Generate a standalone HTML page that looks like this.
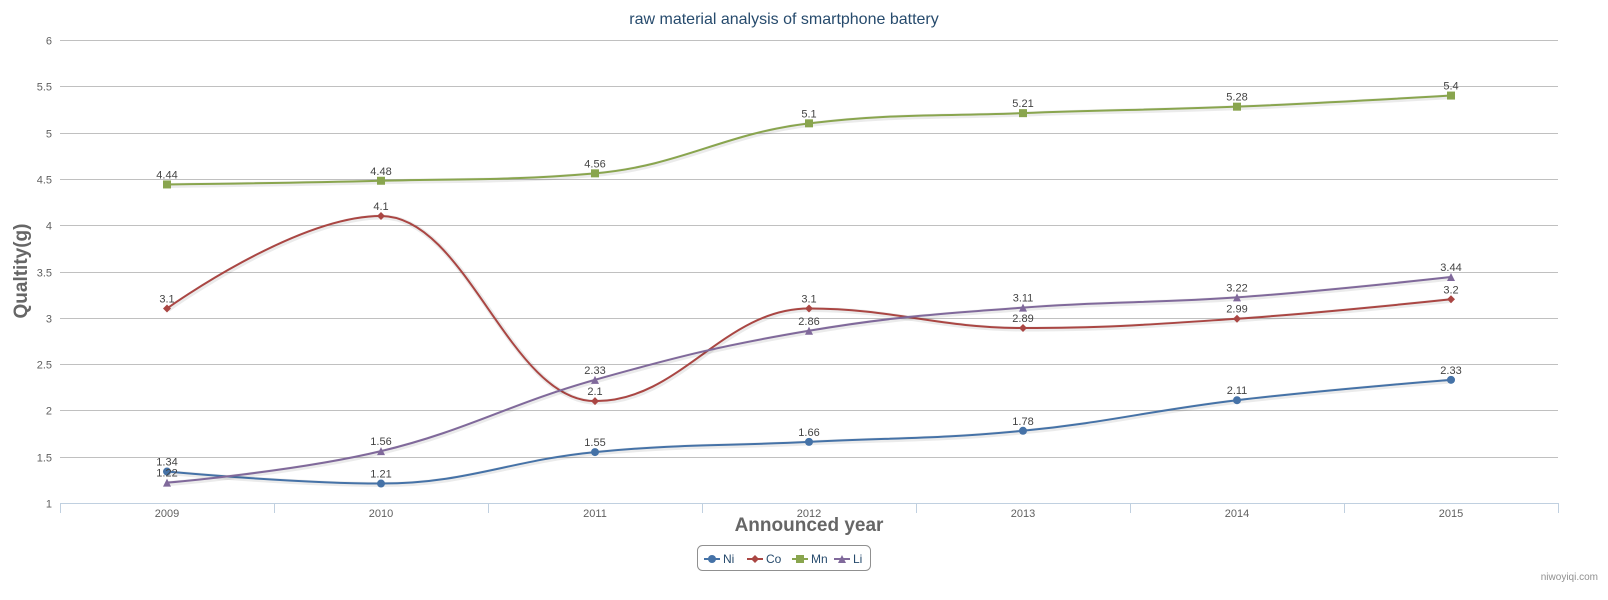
<!DOCTYPE html>
<html><head><meta charset="utf-8">
<style>
html,body{margin:0;padding:0;background:#fff;width:1608px;height:600px;overflow:hidden;}
svg text{font-family:"Liberation Sans","DejaVu Sans",sans-serif;}
</style></head>
<body>
<svg id="chart" width="1608" height="600" xmlns="http://www.w3.org/2000/svg">
<text x="784" y="24" text-anchor="middle" font-size="16" fill="#274b6d">raw material analysis of smartphone battery</text>
<g id="grid"></g>
<g id="axes"></g>
<text transform="translate(27,271) rotate(-90)" text-anchor="middle" font-size="19" font-weight="bold" fill="#666">Qualtity(g)</text>
<text x="809" y="531" text-anchor="middle" font-size="19" font-weight="bold" fill="#666">Announced year</text>
<g id="series"></g>
<g id="legend"></g>
<text x="1598" y="580" text-anchor="end" font-size="10" fill="#909090">niwoyiqi.com</text>
</svg>
<script>
const categories = ["2009","2010","2011","2012","2013","2014","2015"];
const yTicks = [1,1.5,2,2.5,3,3.5,4,4.5,5,5.5,6];
const seriesNames = ["Ni","Co","Mn","Li"];
const niValues = [1.34,1.21,1.55,1.66,1.78,2.11,2.33];
const coValues = [3.1,4.1,2.1,3.1,2.89,2.99,3.2];
const mnValues = [4.44,4.48,4.56,5.1,5.21,5.28,5.4];
const liValues = [1.22,1.56,2.33,2.86,3.11,3.22,3.44];

const NS="http://www.w3.org/2000/svg";
const L=60,R=1558,T=40,B=503,yMin=1,yMax=6;
const cw=(R-L)/categories.length;
const xs=i=>L+cw*(i+0.5);
const ys=v=>B-(v-yMin)/(yMax-yMin)*(B-T);
function mk(tag,attrs,parent){const e=document.createElementNS(NS,tag);for(const k in attrs)e.setAttribute(k,attrs[k]);parent.appendChild(e);return e;}
const grid=document.getElementById('grid'),axes=document.getElementById('axes'),sg=document.getElementById('series'),lg=document.getElementById('legend');

yTicks.forEach(t=>{
  const y=Math.round(ys(t))+0.5;
  const ln=mk('line',{x1:L,x2:R,y1:y,y2:y,stroke:'#C0C0C0','stroke-width':1},grid);
  
  
  const tx=mk('text',{x:52,y:y+4,'text-anchor':'end','font-size':11,fill:'#606060'},axes);
  tx.textContent=String(t);
  
  
});
const ax=mk('line',{x1:L,x2:R,y1:B+0.5,y2:B+0.5,stroke:'#C0D0E0','stroke-width':1},axes);


for(let i=0;i<=categories.length;i++){
  const x=Math.round(L+cw*i)+0.5;
  const tk=mk('line',{x1:x,x2:x,y1:B,y2:B+10,stroke:'#C0D0E0'},axes);
  
  
}
categories.forEach((c,i)=>{
  const tx=mk('text',{x:xs(i),y:B+14,'text-anchor':'middle','font-size':11,fill:'#606060'},axes);
  tx.textContent=c;
  
  
});

function splinePath(pts){
  const sm=1.5,d=2.5;const ctrl=[];
  for(let i=0;i<pts.length;i++){
    const p=pts[i];
    if(i===0||i===pts.length-1){ctrl.push({lx:p.x,ly:p.y,rx:p.x,ry:p.y});continue;}
    const a=pts[i-1],n=pts[i+1];
    let lx=(sm*p.x+a.x)/d,ly=(sm*p.y+a.y)/d,rx=(sm*p.x+n.x)/d,ry=(sm*p.y+n.y)/d;
    const corr=((ry-ly)*(rx-p.x))/(rx-lx)+p.y-ry;ly+=corr;ry+=corr;
    if(ly>a.y&&ly>p.y){ly=Math.max(a.y,p.y);ry=2*p.y-ly;}
    else if(ly<a.y&&ly<p.y){ly=Math.min(a.y,p.y);ry=2*p.y-ly;}
    if(ry>n.y&&ry>p.y){ry=Math.max(n.y,p.y);ly=2*p.y-ry;}
    else if(ry<n.y&&ry<p.y){ry=Math.min(n.y,p.y);ly=2*p.y-ry;}
    ctrl.push({lx,ly,rx,ry});
  }
  let s=`M${pts[0].x},${pts[0].y}`;
  for(let i=1;i<pts.length;i++)s+=` C${ctrl[i-1].rx},${ctrl[i-1].ry} ${ctrl[i].lx},${ctrl[i].ly} ${pts[i].x},${pts[i].y}`;
  return s;
}
function marker(shape,x,y,color,parent){
  let e;
  if(shape==='circle')e=mk('circle',{cx:x,cy:y,r:4,fill:color},parent);
  else if(shape==='diamond')e=mk('path',{d:`M${x},${y-4}L${x+4},${y}L${x},${y+4}L${x-4},${y}Z`,fill:color},parent);
  else if(shape==='square')e=mk('rect',{x:x-4,y:y-4,width:8,height:8,fill:color},parent);
  else e=mk('path',{d:`M${x},${y-4}L${x+4},${y+4}L${x-4},${y+4}Z`,fill:color},parent);
  return e;
}
const allValues=[niValues,coValues,mnValues,liValues];
const colors=['#4572A7','#AA4643','#89A54E','#80699B'];
const shapes=['circle','diamond','square','triangle'];
allValues.forEach((vals,si)=>{
  const g=mk('g',{},sg);
  
  
  const pts=vals.map((v,i)=>({x:xs(i),y:ys(v)}));
  const dpath=splinePath(pts);
  mk('path',{d:dpath,fill:'none',stroke:'rgba(0,0,0,0.08)','stroke-width':5,transform:'translate(1,1)'},g);
  const line=mk('path',{d:dpath,fill:'none',stroke:colors[si],'stroke-width':2},g);
  
  
  pts.forEach((p,i)=>{
    const m=marker(shapes[si],p.x,p.y,colors[si],g);
    
    
    const t=mk('text',{x:p.x,y:p.y-6,'text-anchor':'middle','font-size':11,fill:'#444'},g);
    t.textContent=String(vals[i]);
    
    
  });
});
// legend
const box=mk('rect',{x:697.5,y:545.5,width:173,height:25,rx:5,fill:'#fff',stroke:'#909090'},lg);


const lx=[704,747,792,834];
seriesNames.forEach((n,i)=>{
  const g=mk('g',{},lg);
  
  
  mk('line',{x1:lx[i],x2:lx[i]+16,y1:559,y2:559,stroke:colors[i],'stroke-width':2},g);
  marker(shapes[i],lx[i]+8,559,colors[i],g);
  const t=mk('text',{x:lx[i]+19,y:563,'font-size':12,fill:'#274b6d'},g);
  t.textContent=n;
});
</script>
</body></html>
